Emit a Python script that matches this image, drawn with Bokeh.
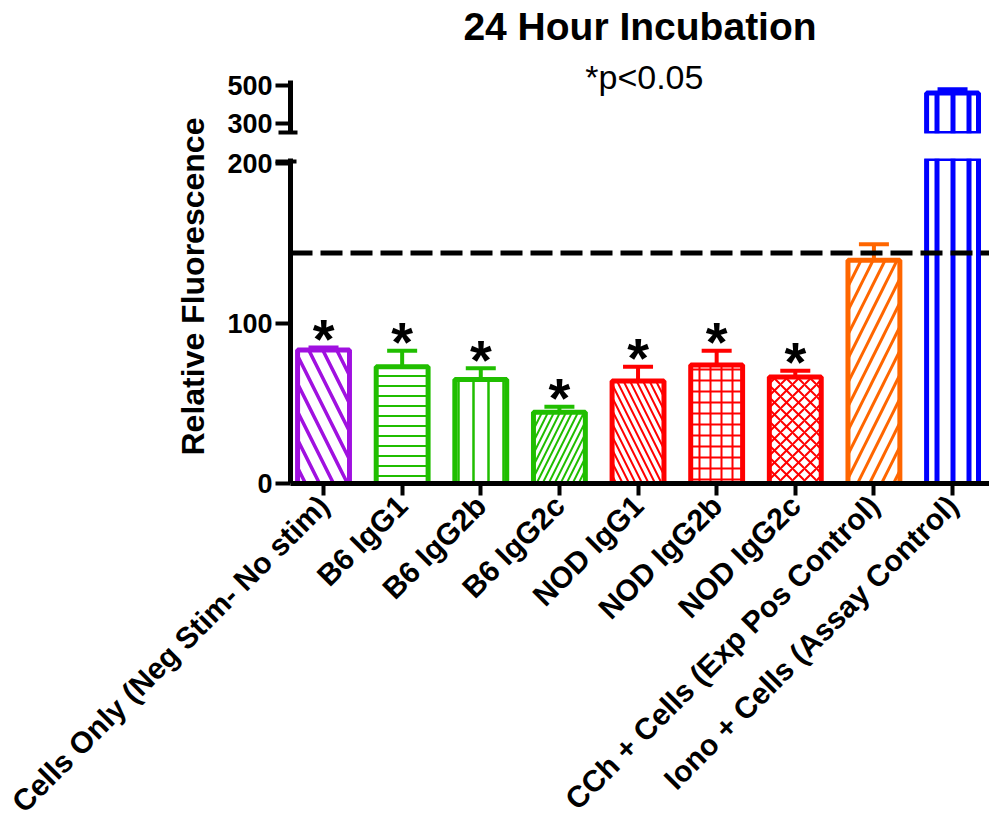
import math
from bokeh.plotting import figure
from bokeh.models import (ColumnDataSource, Range1d, FixedTicker, Span, Label, Title,
                          CDSView, BooleanFilter)
from bokeh.layouts import column
from bokeh.embed import file_html
from bokeh.resources import INLINE
from bokeh.core.properties import value

# ---------------- data ----------------
categories = ["Cells Only (Neg Stim- No stim)", "B6 IgG1", "B6 IgG2b", "B6 IgG2c",
              "NOD IgG1", "NOD IgG2b", "NOD IgG2c",
              "CCh + Cells (Exp Pos Control)", "Iono + Cells (Assay Control)"]
means = [83.5, 73.0, 65.0, 44.5, 64.0, 74.0, 66.5, 139.5, 460.0]
sems = [1.5, 10.0, 7.0, 3.5, 9.0, 9.0, 4.0, 10.0, 20.0]
significant = [True, True, True, True, True, True, True, False, False]
threshold = 144.0
lower_ticks = [0, 100, 200]
upper_ticks = [300, 500]
title_text = "24 Hour Incubation"
subtitle_text = "*p<0.05"
y_label_text = "Relative Fluorescence"

# ---------------- styles ----------------
colors = ["#A010E0", "#20BE00", "#20BE00", "#20BE00", "#FF0000", "#FF0000", "#FF0000",
          "#FF6600", "#0000FF"]
hatches = ["\\", "-", "|", "/", "\\", "+", "x", "/", "|"]
hatch_scales = [28, 10, 15, 12, 13, 11, 12, 24, 16]
hatch_weights = [3.5, 2.0, 2.5, 2.0, 2.0, 2.0, 2.0, 3.0, 5.0]
FONT = "Liberation Sans"

# axis break (segment limits)
upper_start, upper_end = 247.37, 947.37
lower_start, lower_end = 0.0, 203.1

n = len(categories)
xs = list(range(n))
src = ColumnDataSource(dict(
    x=xs, top=means, etop=[m + s for m, s in zip(means, sems)], color=colors,
    hatch=hatches, hscale=hatch_scales, hweight=hatch_weights))
sig_idx = [i for i in range(n) if significant[i]]
star_src = ColumnDataSource(dict(
    x=[xs[i] for i in sig_idx], y=[means[i] + sems[i] for i in sig_idx],
    t=["*"] * len(sig_idx)))

x_range = Range1d(-0.42, 8.47)

W = 989
TOP_H = 145


def draw_bars(p, view=None):
    kw = {} if view is None else {"view": view}
    p.vbar(x="x", top="top", bottom=0, width=0.66, fill_color="white",
           line_color="color", line_width=5, hatch_pattern="hatch",
           hatch_color="color", hatch_scale="hscale", hatch_weight="hweight",
           source=src, **kw)
    p.segment(x0="x", y0="top", x1="x", y1="etop", line_color="color",
              line_width=4, source=src, **kw)
    p.scatter(x="x", y="etop", marker="dash", size=30, line_color="color",
              line_width=4, source=src, **kw)


def style_yaxis(ax):
    ax.axis_line_width = 5
    ax.major_tick_line_width = 4
    ax.major_tick_out = 15
    ax.major_tick_in = 0
    ax.minor_tick_line_width = 4
    ax.major_label_text_font = FONT
    ax.major_label_text_font_style = "bold"
    ax.major_label_text_font_size = "27px"
    ax.major_label_text_color = "black"
    ax.major_label_standoff = 3


# ---------------- upper segment ----------------
upper = figure(width=W, height=TOP_H, x_range=x_range,
               y_range=Range1d(upper_start, upper_end),
               x_axis_type=None, output_backend="svg", toolbar_location=None,
               title=None, min_border_left=290, min_border_right=0,
               min_border_top=0, min_border_bottom=TOP_H - 133)
upper.outline_line_color = None
upper.xgrid.visible = False
upper.ygrid.visible = False
upper_view = CDSView(filter=BooleanFilter([m > upper_start for m in means]))
draw_bars(upper, upper_view)
uy = upper.yaxis[0]
uy.ticker = FixedTicker(ticks=upper_ticks, minor_ticks=[252.6])
uy.bounds = (252.6, 526.3)
style_yaxis(uy)
uy.minor_tick_in = 7
uy.minor_tick_out = 12

upper.add_layout(Label(x=4.025, y=810.0, text=title_text, text_align="center",
                       text_baseline="alphabetic", text_font=FONT,
                       text_font_style="bold", text_font_size="39px",
                       text_color="black"))
upper.add_layout(Label(x=4.08, y=547.0, text=subtitle_text, text_align="center",
                       text_baseline="alphabetic", text_font=FONT,
                       text_font_style="normal", text_font_size="34px",
                       text_color="black"))

# ---------------- lower segment ----------------
lower = figure(width=W, height=836, x_range=x_range,
               y_range=Range1d(lower_start, lower_end),
               output_backend="svg", toolbar_location=None, title=None,
               min_border_left=290, min_border_right=0, min_border_top=158,
               min_border_bottom=353, background_fill_color=None,
               border_fill_color=None)
lower.margin = (-TOP_H, 0, 0, 0)
lower.outline_line_color = None
lower.xgrid.visible = False
lower.ygrid.visible = False

lower.add_layout(Span(location=threshold, dimension="width", line_color="black",
                      line_width=5, line_dash="22 8"))
draw_bars(lower)
lower.text(x="x", y="y", text="t", source=star_src, text_font=value(FONT),
           text_font_style="bold", text_font_size="56px", text_align="center",
           text_baseline="alphabetic", y_offset=-9, text_color="black")

ly = lower.yaxis[0]
ly.ticker = FixedTicker(ticks=lower_ticks, minor_ticks=[201.5])
ly.bounds = (lower_start, lower_end)
style_yaxis(ly)
ly.minor_tick_in = 6
ly.minor_tick_out = 15

lx = lower.xaxis[0]
lx.ticker = FixedTicker(ticks=xs)
lx.major_label_overrides = {i: c for i, c in zip(xs, categories)}
lx.axis_line_width = 5
lx.major_tick_line_width = 4
lx.major_tick_out = 12
lx.major_tick_in = 0
lx.minor_tick_out = 0
lx.minor_tick_in = 0
lx.major_label_orientation = math.pi / 4
lx.major_label_text_font = FONT
lx.major_label_text_font_style = "bold"
lx.major_label_text_font_size = "30px"
lx.major_label_text_color = "black"
lx.major_label_standoff = 5

lower.add_layout(Title(text=y_label_text, align="left", offset=28, standoff=27,
                       text_font=FONT, text_font_style="bold",
                       text_font_size="32px", text_color="black"), "left")

layout = column(upper, lower)
open("out.html", "w").write(file_html(layout, INLINE))
